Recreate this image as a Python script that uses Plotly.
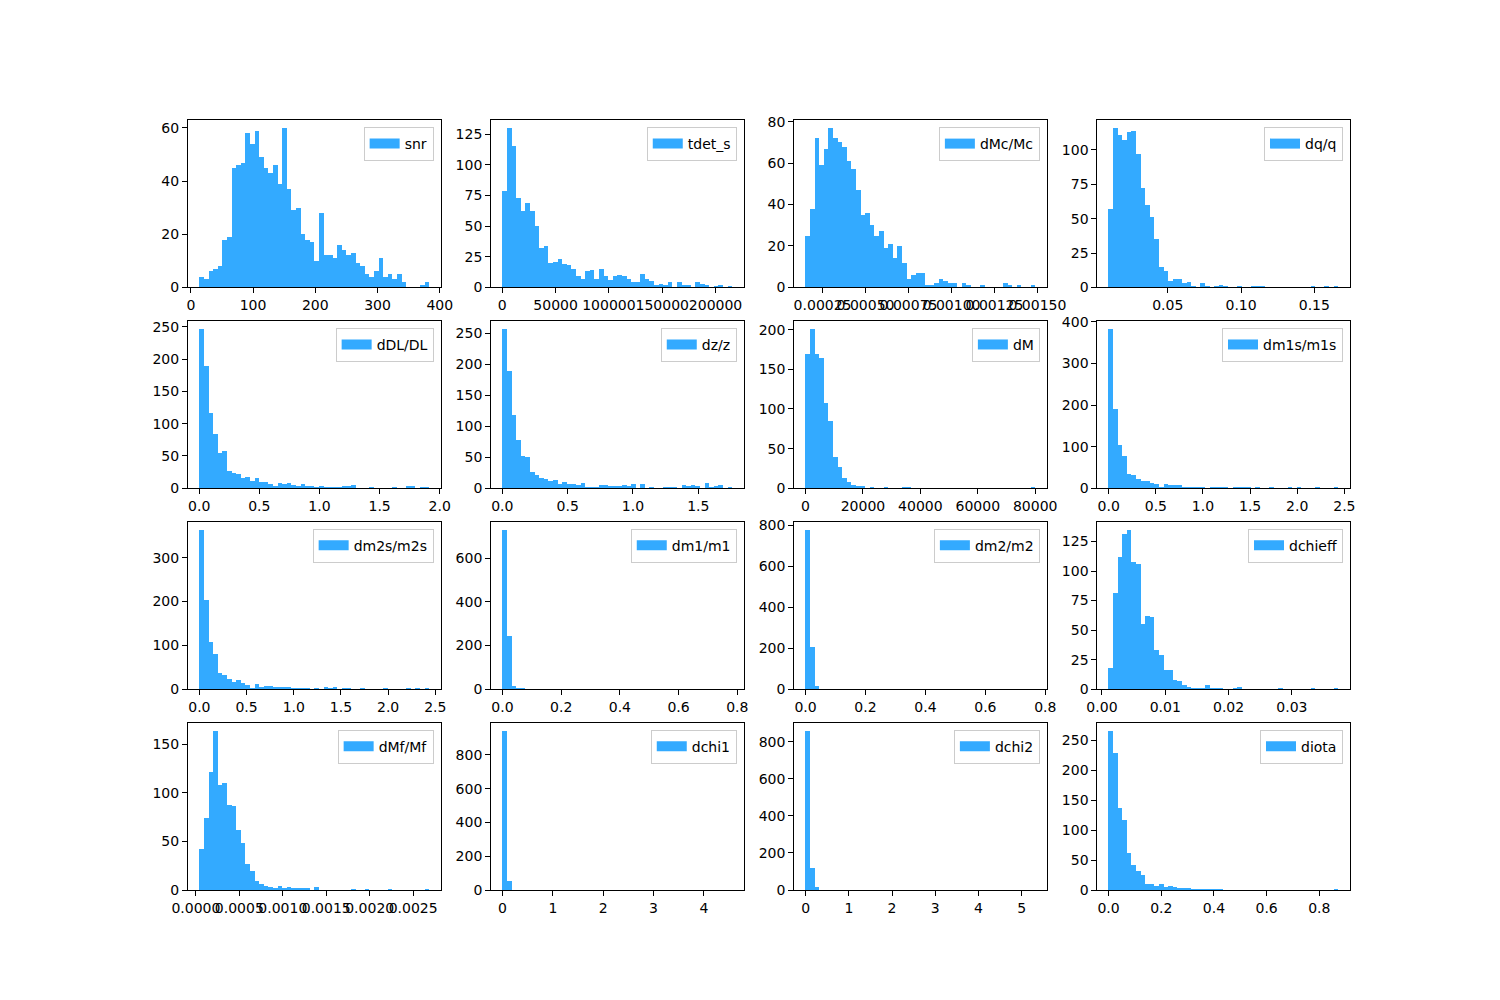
import numpy as np
import plotly.graph_objects as go
from plotly.subplots import make_subplots

# colour of all histograms
BAR = '#33aaff'

# counts per bin (50 bins each) and data min / max
snr_counts = [4, 3, 6, 7, 8, 18, 19, 45, 46, 47, 58, 54, 59, 49, 45, 43, 46, 39, 60, 37,
              29, 30, 20, 18, 17, 10, 28, 12, 12, 11, 16, 14, 12, 13, 9, 8, 5, 4, 6, 11,
              4, 5, 3, 5, 2, 0, 0, 0, 1, 2]
snr_lo, snr_hi = 13.9, 382.9

tdet_counts = [79, 130, 115, 73, 62, 69, 62, 50, 32, 34, 20, 21, 23, 19, 18, 15, 9, 7, 13, 14,
               7, 15, 9, 6, 9, 10, 9, 7, 4, 4, 11, 7, 5, 2, 3, 2, 4, 0, 4, 2,
               2, 0, 4, 3, 2, 0, 1, 2, 0, 1]
tdet_lo, tdet_hi = 300, 215700

dMc_counts = [25, 38, 72, 59, 67, 77, 72, 70, 68, 61, 57, 47, 35, 36, 30, 25, 27, 19, 21, 14,
              20, 12, 4, 6, 7, 7, 1, 1, 2, 4, 3, 2, 2, 0, 2, 1, 0, 0, 1, 0,
              0, 0, 0, 2, 1, 0, 1, 0, 0, 1]
dMc_lo, dMc_hi = 0.000152, 0.001488

dq_counts = [57, 116, 111, 107, 113, 114, 97, 72, 60, 51, 35, 15, 12, 5, 6, 6, 3, 4, 1, 0,
             3, 1, 0, 1, 2, 1, 0, 0, 1, 0, 0, 1, 1, 1, 0, 0, 0, 0, 0, 0,
             0, 0, 0, 0, 1, 0, 0, 1, 0, 1]
dq_lo, dq_hi = 0.0098, 0.1665

dDL_counts = [247, 190, 117, 84, 55, 58, 27, 24, 22, 16, 17, 11, 16, 10, 10, 7, 4, 8, 7, 8,
              5, 4, 7, 4, 3, 2, 3, 2, 2, 2, 2, 3, 3, 6, 0, 0, 0, 2, 0, 0,
              0, 0, 2, 0, 0, 3, 3, 0, 2, 2]
dDL_lo, dDL_hi = 0.0025, 1.912

dz_counts = [257, 189, 118, 78, 52, 51, 26, 22, 17, 15, 12, 13, 7, 11, 7, 7, 5, 9, 3, 3,
             3, 5, 5, 4, 4, 4, 5, 4, 7, 0, 7, 0, 2, 0, 0, 3, 3, 3, 0, 5,
             4, 5, 4, 0, 8, 2, 4, 5, 0, 2]
dz_lo, dz_hi = 0.002, 1.760

dM_counts = [170, 201, 169, 164, 108, 85, 40, 27, 13, 8, 4, 3, 3, 0, 1, 0, 0, 1, 0, 0,
             0, 1, 1, 0, 0, 0, 0, 0, 0, 0, 0, 0, 0, 0, 0, 0, 0, 0, 0, 0,
             0, 0, 0, 0, 0, 0, 0, 0, 0, 1]
dM_lo, dM_hi = 70, 80060

dm1s_counts = [383, 191, 104, 78, 34, 32, 22, 18, 18, 12, 10, 3, 10, 8, 8, 8, 3, 3, 3, 3,
               3, 0, 3, 3, 3, 3, 0, 3, 3, 3, 3, 0, 3, 0, 0, 3, 0, 0, 0, 3,
               0, 3, 0, 0, 0, 3, 0, 0, 0, 3]
dm1s_lo, dm1s_hi = 0.001, 2.438

dm2s_counts = [364, 204, 108, 80, 37, 32, 23, 16, 21, 14, 10, 3, 12, 5, 8, 8, 5, 5, 5, 5,
               2, 2, 2, 2, 0, 2, 0, 5, 2, 5, 0, 2, 2, 0, 0, 1, 0, 0, 0, 0,
               2, 0, 0, 0, 0, 1, 0, 2, 0, 2]
dm2s_lo, dm2s_hi = 0.001, 2.435

dm1_counts = [730, 243, 15, 6, 2, 0, 1, 0, 0, 0, 0, 1, 0, 0, 0, 0, 0, 0, 0, 0,
              0, 0, 0, 1, 0, 0, 0, 0, 0, 0, 0, 0, 0, 0, 0, 0, 0, 0, 0, 0,
              0, 0, 0, 0, 0, 0, 0, 0, 0, 1]
dm1_lo, dm1_hi = 0.0005, 0.783

dm2_counts = [777, 206, 16, 0, 0, 0, 0, 0, 0, 0, 0, 0, 0, 0, 0, 0, 0, 0, 0, 0,
              0, 0, 0, 0, 0, 0, 0, 0, 0, 0, 0, 0, 0, 0, 0, 0, 0, 0, 0, 0,
              0, 0, 0, 0, 0, 0, 0, 0, 0, 1]
dm2_lo, dm2_hi = 0.0005, 0.767

dchieff_counts = [18, 82, 112, 132, 135, 108, 106, 55, 62, 61, 33, 29, 16, 16, 8, 7, 4, 2, 1, 1,
                  1, 4, 1, 1, 1, 0, 0, 1, 2, 0, 0, 0, 0, 0, 0, 0, 0, 1, 0, 0,
                  0, 0, 0, 0, 1, 0, 0, 0, 0, 1]
dchieff_lo, dchieff_hi = 0.00109, 0.03736

dMf_counts = [43, 74, 122, 164, 108, 110, 88, 87, 62, 49, 27, 20, 10, 7, 5, 3, 2, 4, 2, 3,
              2, 2, 2, 2, 0, 3, 0, 0, 0, 0, 0, 0, 0, 1, 0, 0, 1, 0, 0, 0,
              0, 1, 0, 0, 0, 0, 0, 0, 0, 1]
dMf_lo, dMf_hi = 0.0000414, 0.002684

dchi1_counts = [944, 53, 1, 0, 1, 0, 0, 0, 0, 0, 0, 0, 0, 0, 0, 0, 0, 0, 0, 0,
                0, 0, 0, 0, 0, 0, 0, 0, 0, 0, 0, 0, 0, 0, 0, 0, 0, 0, 0, 0,
                0, 0, 0, 0, 0, 0, 0, 0, 0, 1]
dchi1_lo, dchi1_hi = 0.001, 4.564

dchi2_counts = [860, 121, 18, 0, 0, 0, 0, 0, 0, 0, 0, 0, 0, 0, 0, 0, 0, 0, 0, 0,
                0, 0, 0, 0, 0, 0, 0, 0, 0, 0, 0, 0, 0, 0, 0, 0, 0, 0, 0, 0,
                0, 0, 0, 0, 0, 0, 0, 0, 0, 1]
dchi2_lo, dchi2_hi = 0.001, 5.32

diota_counts = [266, 230, 138, 118, 62, 43, 33, 26, 11, 11, 7, 11, 5, 7, 6, 4, 4, 4, 2, 2,
                2, 1, 2, 2, 2, 0, 0, 0, 0, 0, 0, 0, 0, 0, 0, 0, 0, 0, 0, 0,
                0, 0, 0, 0, 0, 0, 0, 0, 0, 1]
diota_lo, diota_hi = 0.001, 0.873

# tick labels as matplotlib prints them
snr_xt = [0, 100, 200, 300, 400]
tdet_xt = [0, 50000, 100000, 150000, 200000]
dMc_xt = [0.00025, 0.0005, 0.00075, 0.001, 0.00125, 0.0015]
dMc_xl = ['0.00025', '0.00050', '0.00075', '0.00100', '0.00125', '0.00150']
dq_xt = [0.05, 0.10, 0.15]
dq_xl = ['0.05', '0.10', '0.15']
half_xt = [0.0, 0.5, 1.0, 1.5, 2.0, 2.5]
half_xl = ['0.0', '0.5', '1.0', '1.5', '2.0', '2.5']
dM_xt = [0, 20000, 40000, 60000, 80000]
fifth_xt = [0.0, 0.2, 0.4, 0.6, 0.8]
fifth_xl = ['0.0', '0.2', '0.4', '0.6', '0.8']
dchieff_xt = [0.0, 0.01, 0.02, 0.03]
dchieff_xl = ['0.00', '0.01', '0.02', '0.03']
dMf_xt = [0.0, 0.0005, 0.001, 0.0015, 0.002, 0.0025]
dMf_xl = ['0.0000', '0.0005', '0.0010', '0.0015', '0.0020', '0.0025']
unit_xt = [0, 1, 2, 3, 4, 5]

panels = [
    ('snr', snr_counts, snr_lo, snr_hi, snr_xt, [str(v) for v in snr_xt], [0, 20, 40, 60]),
    ('tdet_s', tdet_counts, tdet_lo, tdet_hi, tdet_xt, [str(v) for v in tdet_xt], [0, 25, 50, 75, 100, 125]),
    ('dMc/Mc', dMc_counts, dMc_lo, dMc_hi, dMc_xt, dMc_xl, [0, 20, 40, 60, 80]),
    ('dq/q', dq_counts, dq_lo, dq_hi, dq_xt, dq_xl, [0, 25, 50, 75, 100]),
    ('dDL/DL', dDL_counts, dDL_lo, dDL_hi, half_xt[:5], half_xl[:5], [0, 50, 100, 150, 200, 250]),
    ('dz/z', dz_counts, dz_lo, dz_hi, half_xt[:4], half_xl[:4], [0, 50, 100, 150, 200, 250]),
    ('dM', dM_counts, dM_lo, dM_hi, dM_xt, [str(v) for v in dM_xt], [0, 50, 100, 150, 200]),
    ('dm1s/m1s', dm1s_counts, dm1s_lo, dm1s_hi, half_xt, half_xl, [0, 100, 200, 300, 400]),
    ('dm2s/m2s', dm2s_counts, dm2s_lo, dm2s_hi, half_xt, half_xl, [0, 100, 200, 300]),
    ('dm1/m1', dm1_counts, dm1_lo, dm1_hi, fifth_xt, fifth_xl, [0, 200, 400, 600]),
    ('dm2/m2', dm2_counts, dm2_lo, dm2_hi, fifth_xt, fifth_xl, [0, 200, 400, 600, 800]),
    ('dchieff', dchieff_counts, dchieff_lo, dchieff_hi, dchieff_xt, dchieff_xl, [0, 25, 50, 75, 100, 125]),
    ('dMf/Mf', dMf_counts, dMf_lo, dMf_hi, dMf_xt, dMf_xl, [0, 50, 100, 150]),
    ('dchi1', dchi1_counts, dchi1_lo, dchi1_hi, unit_xt[:5], [str(v) for v in unit_xt[:5]], [0, 200, 400, 600, 800]),
    ('dchi2', dchi2_counts, dchi2_lo, dchi2_hi, unit_xt, [str(v) for v in unit_xt], [0, 200, 400, 600, 800]),
    ('diota', diota_counts, diota_lo, diota_hi, fifth_xt, fifth_xl, [0, 50, 100, 150, 200, 250]),
]

# same geometry as a matplotlib 15x10 figure with 4x4 subplots
fig = make_subplots(rows=4, cols=4,
                    horizontal_spacing=50.5 / 1162.5,
                    vertical_spacing=33.5 / 770)

for i, (name, counts, lo, hi, xt, xl, yt) in enumerate(panels):
    r, c = i // 4 + 1, i % 4 + 1
    edges = np.linspace(lo, hi, len(counts) + 1)
    centers = (edges[:-1] + edges[1:]) / 2
    leg = 'legend' if i == 0 else 'legend%d' % (i + 1)
    fig.add_trace(go.Bar(x=centers, y=counts, width=edges[1] - edges[0],
                         marker=dict(color=BAR, line=dict(width=0)),
                         showlegend=False, hoverinfo='x+y'), row=r, col=c)
    # legend entry drawn as a wide patch like matplotlib
    fig.add_trace(go.Scatter(x=[None], y=[None], mode='lines',
                             line=dict(color=BAR, width=10),
                             name=name, legend=leg), row=r, col=c)
    span = hi - lo
    fig.update_xaxes(range=[lo - 0.05 * span, hi + 0.05 * span],
                     tickvals=xt, ticktext=xl, row=r, col=c)
    fig.update_yaxes(range=[0, 1.05 * max(counts)], tickvals=yt, row=r, col=c)

fig.update_xaxes(showline=True, mirror=True, linecolor='black', linewidth=1,
                 ticks='outside', ticklen=5, tickwidth=1, tickcolor='black', tickangle=0,
                 showgrid=False, zeroline=False, tickfont=dict(size=14, color='black'))
fig.update_yaxes(showline=True, mirror=True, linecolor='black', linewidth=1,
                 ticks='outside', ticklen=5, tickwidth=1, tickcolor='black',
                 showgrid=False, zeroline=False, tickfont=dict(size=14, color='black'))

# one legend per subplot, upper right inside the axes
legends = {}
for i in range(16):
    n = '' if i == 0 else str(i + 1)
    xd = fig.layout['xaxis' + n].domain
    yd = fig.layout['yaxis' + n].domain
    legends['legend' + n] = dict(
        x=xd[1] - 7 / 1162.5, y=yd[1] - 7 / 770,
        xanchor='right', yanchor='top',
        bgcolor='rgba(255,255,255,0.8)', bordercolor='#cccccc', borderwidth=1,
        font=dict(size=14, color='black'),
    )

# the page adds 8 px around the figure, so margins are shifted by that
fig.update_layout(
    width=1500, height=1000,
    margin=dict(l=179.5, r=158, t=112, b=118),
    plot_bgcolor='white', paper_bgcolor='white',
    font=dict(family='DejaVu Sans', size=14, color='black'),
    bargap=0,
    **legends
)

fig.write_html('out.html')
